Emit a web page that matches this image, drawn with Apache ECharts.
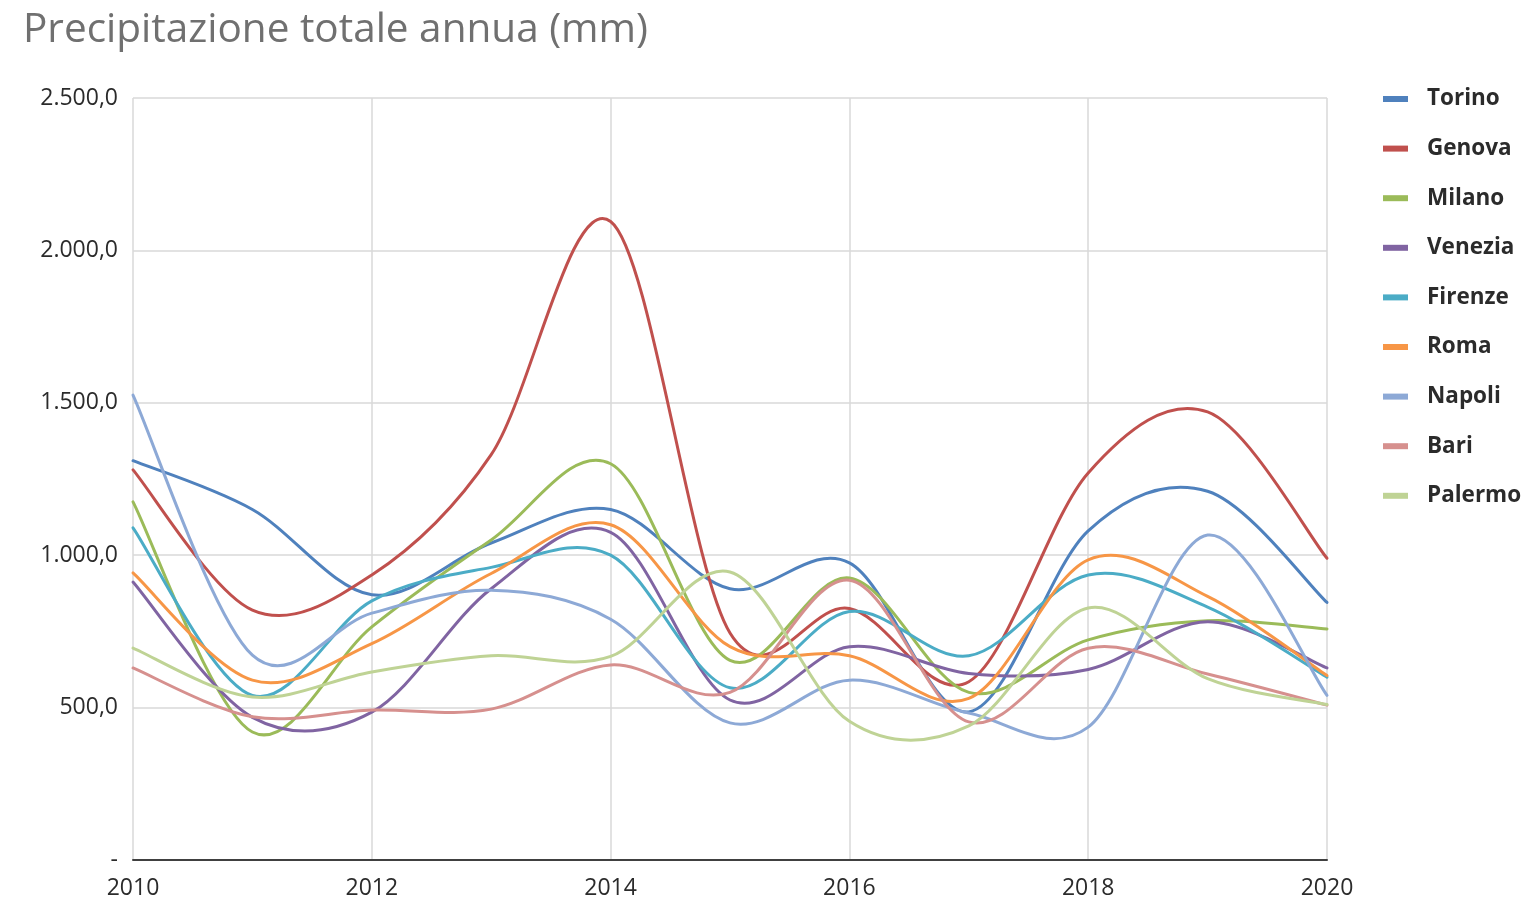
<!DOCTYPE html>
<html>
<head>
<meta charset="utf-8">
<script src="https://cdn.jsdelivr.net/npm/echarts@6/dist/echarts.min.js"></script>
<style>
html,body{margin:0;padding:0;background:#fff;}
#chart{width:1532px;height:903px;}
</style>
</head>
<body>
<div id="chart"></div>
<script>
const years = [2010, 2011, 2012, 2013, 2014, 2015, 2016, 2017, 2018, 2019, 2020];
const cities = ["Torino", "Genova", "Milano", "Venezia", "Firenze", "Roma", "Napoli", "Bari", "Palermo"];
const torino  = [1310, 1150, 870, 1040, 1150, 890, 975, 486, 1080, 1210, 845];
const genova  = [1280, 820, 935, 1330, 2095, 745, 825, 585, 1270, 1470, 990];
const milano  = [1175, 420, 765, 1050, 1300, 655, 925, 550, 722, 785, 758];
const venezia = [912, 468, 485, 890, 1075, 525, 700, 612, 625, 782, 630];
const firenze = [1090, 540, 850, 960, 1000, 565, 815, 670, 935, 830, 600];
const roma    = [942, 590, 710, 940, 1100, 700, 670, 530, 985, 865, 605];
const napoli  = [1525, 672, 810, 885, 790, 450, 590, 482, 436, 1066, 540];
const bari    = [630, 470, 492, 495, 640, 550, 918, 453, 695, 610, 508];
const palermo = [695, 535, 617, 670, 668, 945, 455, 440, 827, 595, 510];
const yTicks = [0, 500, 1000, 1500, 2000, 2500];

const seriesValues = [torino, genova, milano, venezia, firenze, roma, napoli, bari, palermo];
const colors = ["#4F81BD", "#C0504D", "#9BBB59", "#8064A2", "#4BACC6", "#F79646", "#8DA9D6", "#D6908E", "#BFD395"];

function fmt(v) {
  if (v === 0) return "-";
  const intPart = Math.floor(v).toString().replace(/\B(?=(\d{3})+(?!\d))/g, ".");
  return intPart + ",0";
}

// Excel-like smoothed line (Catmull-Rom style Bezier) through the data points,
// positioned with the chart's own coordinate system (api.coord).
function makeRenderItem(values, color) {
  return function (params, api) {
    if (params.dataIndex !== 0) return null;
    const pts = years.map((y, j) => api.coord([y, values[j]]));
    const n = pts.length;
    let d = "M" + pts[0][0] + "," + pts[0][1];
    for (let i = 0; i < n - 1; i++) {
      const p0 = pts[Math.max(i - 1, 0)];
      const p1 = pts[i];
      const p2 = pts[i + 1];
      const p3 = pts[Math.min(i + 2, n - 1)];
      const c1x = p1[0] + (p2[0] - p0[0]) / 6;
      const c1y = p1[1] + (p2[1] - p0[1]) / 6;
      const c2x = p2[0] - (p3[0] - p1[0]) / 6;
      const c2y = p2[1] - (p3[1] - p1[1]) / 6;
      d += " C" + c1x + "," + c1y + " " + c2x + "," + c2y + " " + p2[0] + "," + p2[1];
    }
    return {
      type: "path",
      shape: {pathData: d},
      style: {stroke: color, fill: "none", lineWidth: 3, lineJoin: "round", lineCap: "round"},
      silent: true
    };
  };
}

const chart = echarts.init(document.getElementById("chart"));
chart.setOption({
  backgroundColor: "#ffffff",
  animation: false,
  color: colors,
  title: {
    text: "Precipitazione totale annua (mm)",
    left: 18,
    top: 5,
    textStyle: {fontFamily: "Open Sans", fontSize: 40.5, fontWeight: "normal", color: "#707070"}
  },
  legend: {
    orient: "vertical",
    left: 1378,
    top: 82,
    icon: "rect",
    itemWidth: 25,
    itemHeight: 6,
    itemGap: 25.6,
    data: cities,
    textStyle: {fontFamily: "Open Sans", fontSize: 22.5, fontWeight: "bold", color: "#2b2b2b", lineHeight: 24, padding: [0, 0, 0, 14]}
  },
  grid: {left: 133, right: 205, top: 98, bottom: 43, containLabel: false},
  xAxis: {
    type: "value",
    min: 2010,
    max: 2020,
    interval: 2,
    axisLine: {show: true, lineStyle: {color: "#404040", width: 2}},
    axisTick: {show: false},
    axisLabel: {fontFamily: "Open Sans", fontSize: 23, color: "#2b2b2b", margin: 17, formatter: v => String(v)},
    splitLine: {show: true, lineStyle: {color: "#d9d9d9", width: 1.5}}
  },
  yAxis: {
    type: "value",
    min: yTicks[0],
    max: yTicks[yTicks.length - 1],
    interval: 500,
    axisLine: {show: false},
    axisTick: {show: false},
    axisLabel: {fontFamily: "Open Sans", fontSize: 23, color: "#2b2b2b", margin: 15, formatter: fmt},
    splitLine: {show: true, lineStyle: {color: "#d9d9d9", width: 1.5}}
  },
  series: cities.map((name, i) => ({
    name: name,
    type: "custom",
    itemStyle: {color: colors[i]},
    encode: {x: 0, y: 1},
    renderItem: makeRenderItem(seriesValues[i], colors[i]),
    data: years.map((y, j) => [y, seriesValues[i][j]])
  }))
});
</script>
</body>
</html>
